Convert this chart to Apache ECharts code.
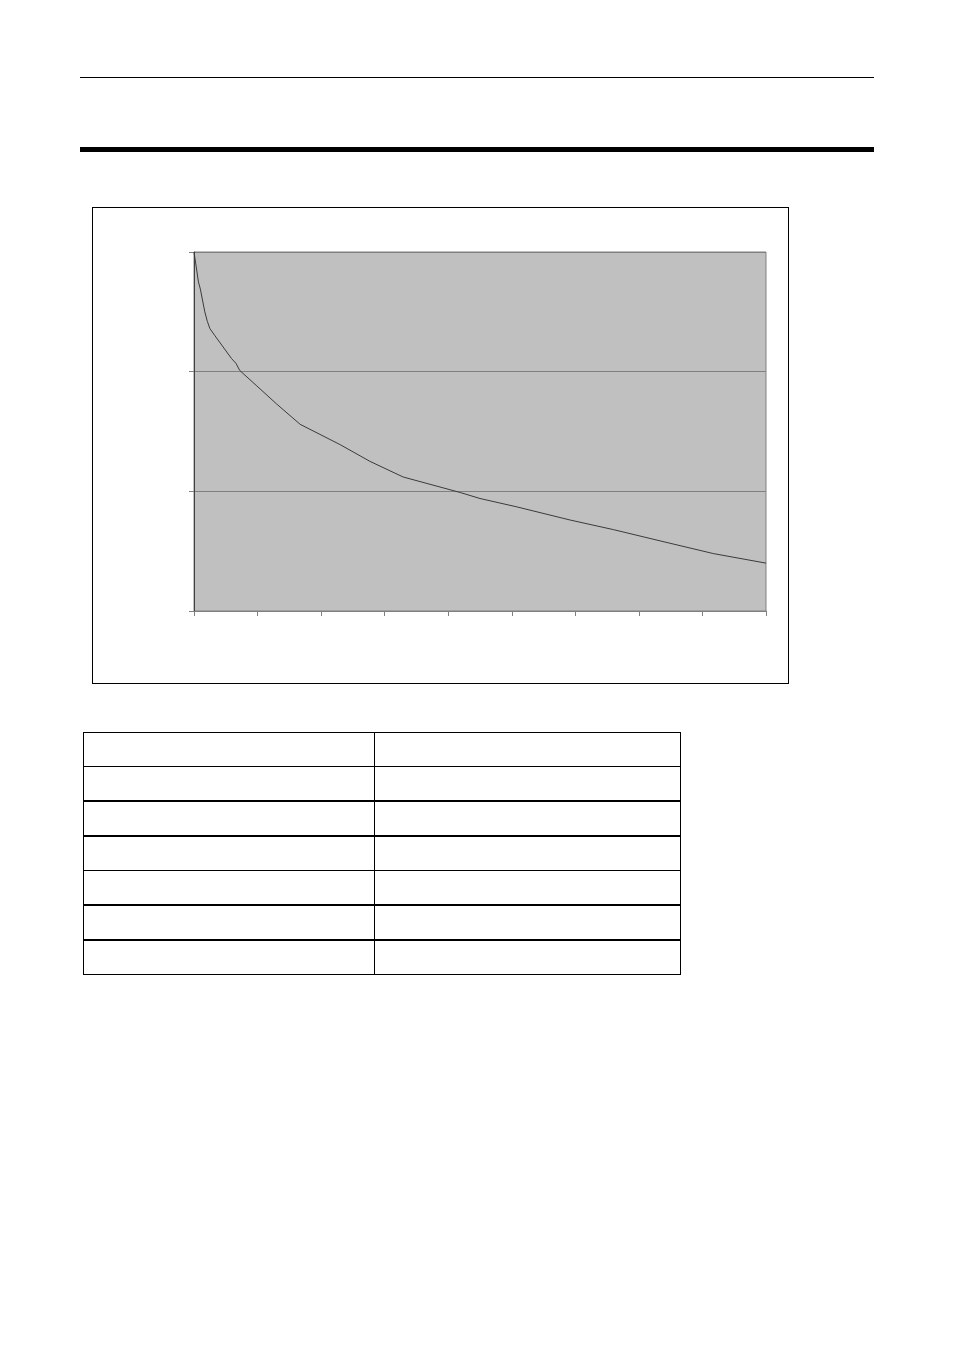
<!DOCTYPE html>
<html>
<head>
<meta charset="utf-8">
<script src="https://cdn.jsdelivr.net/npm/echarts@6/dist/echarts.min.js"></script>
<style>
  html, body { margin: 0; padding: 0; background: #fff; }
  body { width: 954px; height: 1354px; position: relative; overflow: hidden; font-family: "Liberation Sans", Arial, sans-serif; }
  .abs { position: absolute; }
  #chart { position: absolute; left: 0; top: 0; width: 954px; height: 1354px; }
  table.t { position: absolute; left: 83px; top: 732px; width: 598px; border-collapse: collapse; }
  table.t td { border: 1.5px solid #000; height: 33px; padding: 0; }
</style>
</head>
<body>
<div class="abs" style="left:80px;top:77px;width:794px;height:1px;background:#000;"></div>
<div class="abs" style="left:80px;top:147px;width:794px;height:5px;background:#000;"></div>
<div class="abs" style="left:92px;top:207px;width:697px;height:477px;box-sizing:border-box;border:1px solid #000;"></div>
<div id="chart"></div>
<table class="t">
  <tr><td style="width:290px"></td><td></td></tr>
  <tr><td></td><td></td></tr>
  <tr><td style="border-top-width:2.5px"></td><td style="border-top-width:2.5px"></td></tr>
  <tr><td style="border-top-width:2.5px"></td><td style="border-top-width:2.5px"></td></tr>
  <tr><td></td><td></td></tr>
  <tr><td style="border-top-width:2.5px"></td><td style="border-top-width:2.5px"></td></tr>
  <tr><td style="border-top-width:2.5px"></td><td style="border-top-width:2.5px"></td></tr>
</table>
<script>
// Data (no labels visible in the reference)
var xValues = [0, 0.7, 1.0, 1.7, 2.1, 2.5, 3.3, 5.9, 6.6, 7.2, 9.9, 13.0, 16.7, 23.0, 27.7, 32.9, 41.9, 45.0, 50.8, 59.2, 66.0, 73.8, 81.7, 90];
var yValues = [30, 27.5, 26.9, 25.0, 24.2, 23.6, 23.0, 21.1, 20.7, 20.1, 18.8, 17.3, 15.6, 13.9, 12.5, 11.2, 9.9, 9.4, 8.7, 7.6, 6.8, 5.8, 4.8, 4.0];
var xTicks = [0, 10, 20, 30, 40, 50, 60, 70, 80, 90];
var yTicks = [0, 10, 20, 30];

var seriesData = xValues.map(function (x, i) { return [x, yValues[i]]; });

var chart = echarts.init(document.getElementById('chart'), null, { renderer: 'canvas' });
chart.setOption({
  animation: false,
  backgroundColor: 'transparent',
  grid: {
    left: 194, top: 252, width: 572, height: 359,
    show: true, backgroundColor: '#C0C0C0', borderColor: '#808080', borderWidth: 1
  },
  xAxis: {
    type: 'value', min: xTicks[0], max: xTicks[xTicks.length - 1], interval: 10,
    axisLine: { show: true, lineStyle: { color: '#808080', width: 1 } },
    axisTick: { show: true, length: 5, lineStyle: { color: '#808080' } },
    axisLabel: { show: false },
    splitLine: { show: false }
  },
  yAxis: {
    type: 'value', min: yTicks[0], max: yTicks[yTicks.length - 1], interval: 10,
    axisLine: { show: true, lineStyle: { color: '#404040', width: 1 } },
    axisTick: { show: true, length: 5, lineStyle: { color: '#808080' } },
    axisLabel: { show: false },
    splitLine: { show: true, lineStyle: { color: '#808080', width: 1 } }
  },
  series: [{
    type: 'line',
    data: seriesData,
    symbol: 'none',
    smooth: false,
    lineStyle: { color: '#3a3a3a', width: 1 }
  }]
});
</script>
</body>
</html>
